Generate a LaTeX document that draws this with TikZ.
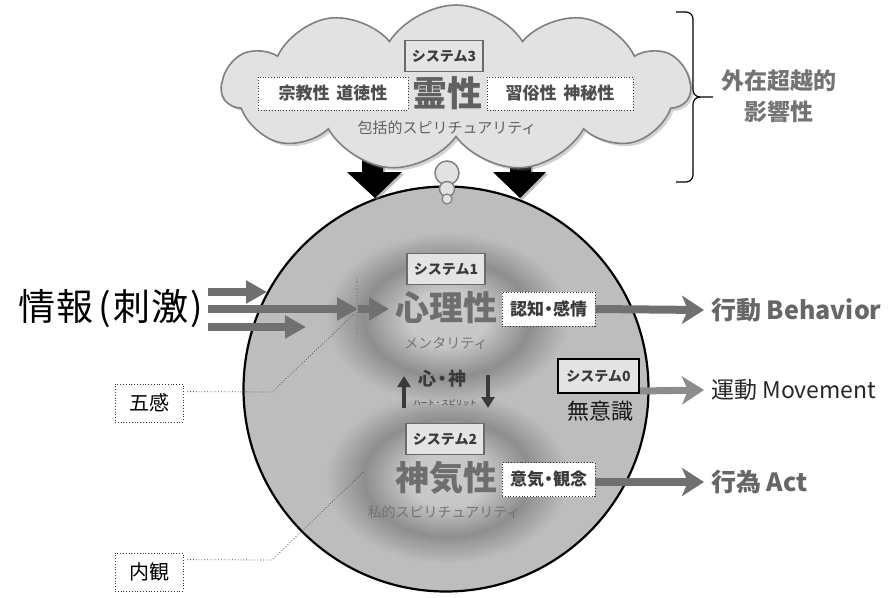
\documentclass[tikz,border=0pt]{standalone}
\usepackage{fontspec}
\setmainfont{Noto Sans CJK JP}
\usetikzlibrary{shapes.symbols,arrows.meta,shadows}
\definecolor{circfill}{HTML}{BDBDBD}
\definecolor{cloudfill}{HTML}{E2E2E2}
\definecolor{cloudline}{HTML}{808080}
\definecolor{arrowgray}{HTML}{707070}
\definecolor{bigtext}{HTML}{666666}
\definecolor{midtext}{HTML}{6E6E6E}
\definecolor{halo}{HTML}{8E8E8E}
\definecolor{haloin}{HTML}{C8C8C8}
\definecolor{sysfill}{HTML}{E4E4E4}
\definecolor{sysline}{HTML}{6A6A6A}
\definecolor{dark}{HTML}{3A3A3A}
\newcommand{\fs}[1]{\fontsize{#1}{#1}\selectfont}
\pgfdeclareradialshading{haloshade}{\pgfpointorigin}{color(0bp)=(haloin); color(8bp)=(haloin); color(17bp)=(halo); color(25bp)=(circfill); color(50bp)=(circfill)}
\tikzset{
  sysbox/.style={fill=sysfill, draw=sysline, line width=1.6pt, minimum width=78pt, minimum height=31pt, inner sep=0pt, font=\fs{14}\bfseries, text=dark},
  dotbox/.style={fill=white, draw=black!80, dotted, line width=0.8pt, inner sep=0pt},
  bigword/.style={font=\fs{34}\bfseries, text=midtext, inner sep=0pt},
  subword/.style={font=\fs{14}, text=bigtext!90, inner sep=0pt},
  inarrow/.style={draw=arrowgray, line width=7.5pt, -{Triangle[length=21pt,width=22pt]}},
  outarrow/.style={draw=arrowgray, line width=8pt, -{Stealth[length=22pt,width=28pt,inset=6pt]}},
  blockarrow/.style={fill=black, drop shadow={opacity=0.5, shadow xshift=2pt, shadow yshift=-2pt}},
  outlabel/.style={anchor=west, inner sep=0pt, font=\fs{25}\bfseries, text=bigtext},
  leader/.style={draw=black!70, dotted, line width=0.8pt},
  sensebox/.style={draw=black!80, dotted, line width=0.8pt, minimum width=68pt, minimum height=38pt, font=\fs{20}, inner sep=0pt},
}
\begin{document}
\begin{tikzpicture}[x=1pt, y=-1pt]
\useasboundingbox (0,0) rectangle (893,597);
% main circle
\node[circle, minimum size=405pt, fill=circfill, draw=black, line width=2.2pt, inner sep=0pt] (mind) at (446,389) {};
% halos
\shade[shading=haloshade] (447,478) ellipse [x radius=122, y radius=86];
\shade[shading=haloshade] (447,318) ellipse [x radius=122, y radius=86];
% block arrows from cloud
\fill[blockarrow] (362,140) -- (383,140) -- (383,172) -- (402,172) -- (375,198) -- (347,172) -- (362,172) -- cycle;
\fill[blockarrow] (510,140) -- (531,140) -- (531,172) -- (546,172) -- (520,198) -- (493,172) -- (510,172) -- cycle;
% cloud
\node[cloud, cloud puffs=11, cloud puff arc=115, aspect=2.9, minimum width=468pt, minimum height=166pt, fill=cloudfill, draw=cloudline, line width=1.6pt, drop shadow={opacity=0.35}] (cloud) at (456,88) {};
% bubbles
\filldraw[fill=cloudfill, draw=cloudline, line width=1.5pt] (447,173) circle (12);
\filldraw[fill=cloudfill, draw=cloudline, line width=1.4pt] (447,189) circle (7.5);
\filldraw[fill=cloudfill, draw=cloudline, line width=1.2pt] (447,199) circle (5);
% cloud contents
\node[sysbox] (s3) at (444,56) {システム3};
\node[dotbox, minimum width=150pt, minimum height=33pt] (lbox) at (333,93.5) {};
\node[dotbox, minimum width=146pt, minimum height=33pt] (rbox) at (560,93.5) {};
\node[font=\fs{17}\bfseries, text=dark!90, inner sep=0pt] (ltxt) at (lbox) {宗教性\hspace{0.4em}道徳性};
\node[font=\fs{17}\bfseries, text=dark!90, inner sep=0pt] (rtxt) at (rbox) {習俗性\hspace{0.4em}神秘性};
\node[font=\fs{35}\bfseries, text=black!62, inner sep=0pt] (rei) at (447,93) {霊性};
\node[font=\fs{15}, text=black!62, inner sep=0pt] (hokatsu) at (447,128) {包括的スピリチュアリティ};
% brace and its label
\draw[line width=1.2pt, rounded corners=7pt] (676,12) -- (693,12) -- (693,97) -- (713,97);
\draw[line width=1.2pt, rounded corners=7pt] (676,182) -- (693,182) -- (693,97) -- (700,97);
\node[font=\fs{23}\bfseries, text=black!55, inner sep=0pt, align=center] (gaizai) at (779,96) {外在超越的\\[8pt]影響性};
% system 1
\node[sysbox] (s1) at (446,269) {システム1};
\node[bigword] (shinri) at (446,308) {心理性};
\node[dotbox, minimum width=93pt, minimum height=34pt] (ninchi) at (548.5,309) {};
\node[font=\fs{17}\bfseries, text=dark, inner sep=0pt] at (ninchi) {認知\kern-4pt・\kern-4pt感情};
\node[subword] (mental) at (446,343) {メンタリティ};
% heart spirit
\node[font=\fs{18}\bfseries, text=dark, inner sep=0pt] (shinjin) at (442,379) {心\kern-3pt・\kern-3pt神};
\node[font=\fs{7}, text=dark, inner sep=0pt] (heart) at (445,403) {ハート・スピリット};
\coordinate (upA) at (404,408);
\coordinate (upB) at (404,376);
\coordinate (dnA) at (488,375);
\coordinate (dnB) at (488,408);
\draw[draw=dark, line width=4pt, -{Triangle[length=11pt,width=13pt]}] (upA) -- (upB);
\draw[draw=dark, line width=4pt, -{Triangle[length=11pt,width=13pt]}] (dnA) -- (dnB);
% system 2
\node[sysbox] (s2) at (445,439) {システム2};
\node[bigword] (shinki) at (446,478) {神気性};
\node[dotbox, minimum width=93pt, minimum height=34pt] (iki) at (548.5,479.5) {};
\node[font=\fs{17}\bfseries, text=dark, inner sep=0pt] at (iki) {意気\kern-4pt・\kern-4pt観念};
\node[subword, text=black!55] (shiteki) at (444,512) {私的スピリチュアリティ};
% system 0
\node[sysbox, draw=black, line width=2pt, minimum width=81pt, minimum height=34pt] (s0) at (598.5,376) {システム0};
\node[font=\fs{22}, text=black!90, inner sep=0pt] (muishiki) at (600,411) {無意識};
% outputs
\coordinate (behT) at (704,310);
\coordinate (movT) at (704,390);
\coordinate (actT) at (704,482);
\draw[outarrow] (ninchi.east) -- (behT);
\draw[outarrow, draw=black!45, line width=7pt] ([yshift=3pt]s0.south east) -- (movT);
\draw[outarrow] ([yshift=-2.5pt]iki.east) -- (actT);
\node[outlabel] (beh) at (711,310) {行動 Behavior};
\node[outlabel, font=\fs{23}, text=black!85] (mov) at (711,390) {運動 Movement};
\node[outlabel] (act) at (711,482) {行為 Act};
% input
\node[font=\fs{37}, text=black, inner sep=0pt, anchor=east] (joho) at (203,309) {情\kern1pt報\hspace{5pt}(\hspace{2pt}刺\kern1pt激\hspace{2pt})};
\coordinate (tail1) at (208,292);
\coordinate (tail2) at (208,309);
\coordinate (tail3) at (208,327);
\coordinate (senseL) at (357,278);
\coordinate (senseR) at (357,340);
\coordinate (in1) at (267,292);
\coordinate (in2) at (358,309);
\coordinate (in2b) at (389,309);
\coordinate (in3) at (306,327);
\draw[inarrow] (tail1) -- (in1);
\draw[inarrow] (tail2) -- (in2);
\draw[inarrow] (tail3) -- (in3);
\draw[inarrow, -{Triangle[length=20pt,width=22pt]}] (in2) -- (in2b);
\draw[draw=black!45, dotted, line width=1.4pt] (senseL) -- (senseR);
% leaders
\node[sensebox] (gokan) at (149,403) {五感};
\node[sensebox] (naikan) at (149,572) {内観};
\coordinate (gk1) at (272,392);
\coordinate (gk2) at (354,314);
\coordinate (nk1) at (272,560);
\coordinate (nk2) at (363,472);
\draw[leader] ([yshift=-8pt, xshift=4pt]gokan.north east) -- (gk1) -- (gk2);
\draw[leader] ([yshift=-7pt, xshift=4pt]naikan.north east) -- (nk1) -- (nk2);
\end{tikzpicture}
\end{document}
